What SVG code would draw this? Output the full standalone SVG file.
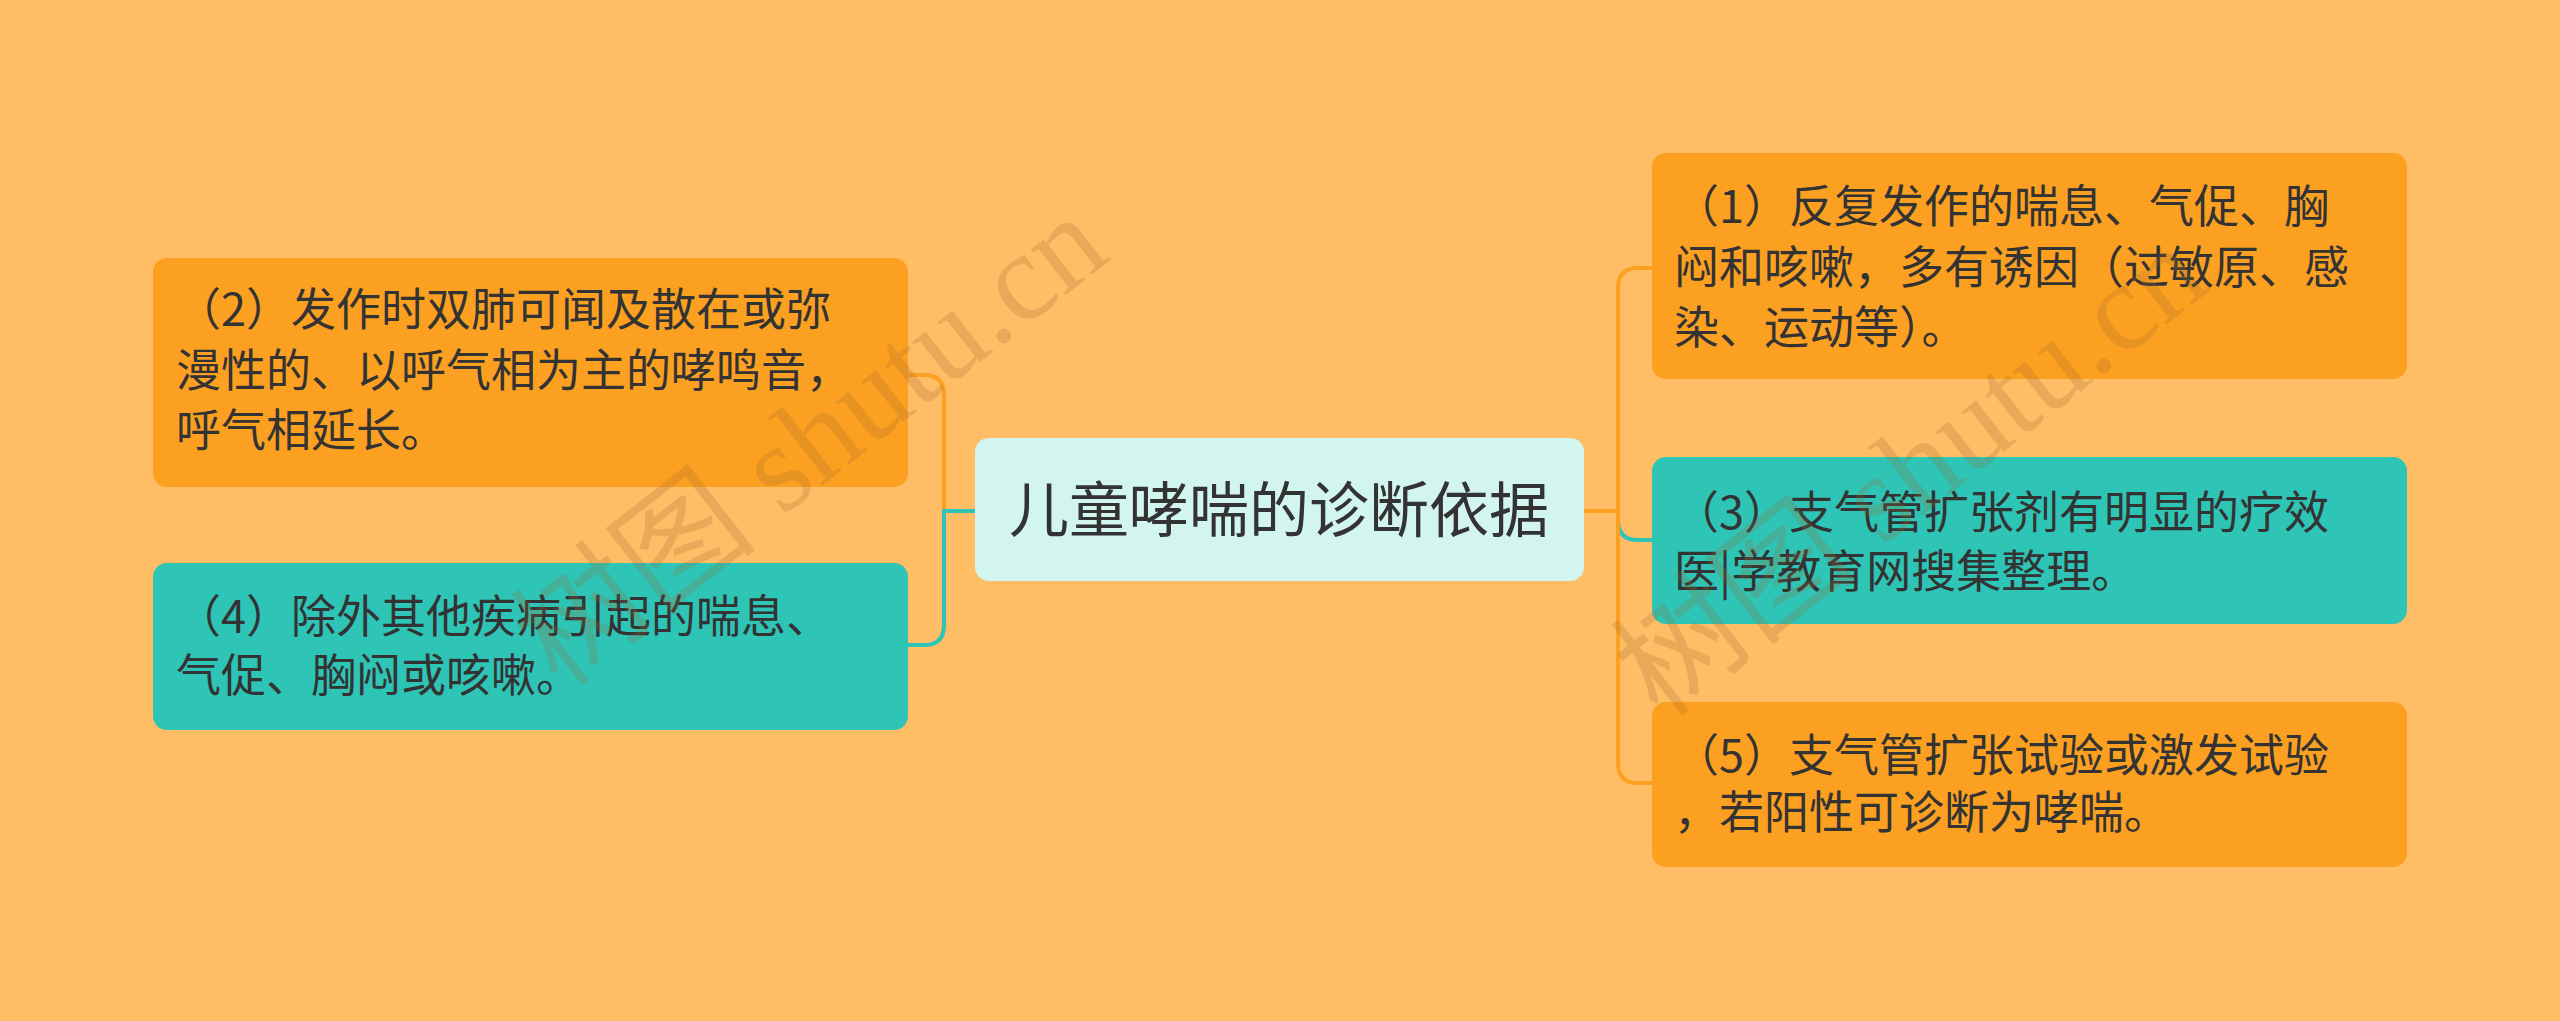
<svg xmlns="http://www.w3.org/2000/svg" width="2560" height="1021" viewBox="0 0 2560 1021">
<style>
.t{font-family:"Noto Sans CJK SC","Noto Sans",sans-serif;font-size:45px;fill:#333}
.or{fill:#FCA021}
.te{fill:#2EC4B6}
.c{fill:none;stroke-width:4}
.wm{font-family:"Liberation Serif","Noto Sans CJK SC",serif;font-size:125px;fill:#9a6a30;opacity:0.22}
</style>
<rect width="2560" height="1021" fill="#FFBD66"/>
<g id="connectors">
<path class="c" stroke="#FCA021" d="M975 511 H944 V395 Q944 375 924 375 H907"/>
<path class="c" stroke="#2EC4B6" d="M975 511 H944 V625 Q944 645 924 645 H907"/>
<path class="c" stroke="#FCA021" d="M1584 511 H1618 V288 Q1618 268 1638 268 H1652"/>
<path class="c" stroke="#2EC4B6" d="M1618 511 V520 Q1618 540 1638 540 H1652"/>
<path class="c" stroke="#FCA021" d="M1618 511 V763 Q1618 783 1638 783 H1652"/>
</g>
<g id="center">
<rect x="975" y="438" width="609" height="143" rx="14" fill="#D2F5F0"/>
<text x="1279" y="532" text-anchor="middle" style="font-family:'Noto Sans CJK SC',sans-serif;font-size:60px;fill:#333">儿童哮喘的诊断依据</text>
</g>
<g id="n2">
<rect class="or" x="153" y="258" width="755" height="229" rx="14"/>
<text class="t"><tspan x="176" y="326">（2）发作时双肺可闻及散在或弥</tspan><tspan x="176" y="387">漫性的、以呼气相为主的哮鸣音，</tspan><tspan x="176" y="447">呼气相延长。</tspan></text>
</g>
<g id="n4">
<rect class="te" x="153" y="563" width="755" height="167" rx="14"/>
<text class="t"><tspan x="176" y="633">（4）除外其他疾病引起的喘息、</tspan><tspan x="176" y="692">气促、胸闷或咳嗽。</tspan></text>
</g>
<g id="n1">
<rect class="or" x="1652" y="153" width="755" height="226" rx="14"/>
<text class="t"><tspan x="1674" y="223">（1）反复发作的喘息、气促、胸</tspan><tspan x="1674" y="284">闷和咳嗽，多有诱因（过敏原、感</tspan><tspan x="1674" y="344">染、运动等）。</tspan></text>
</g>
<g id="n3">
<rect class="te" x="1652" y="457" width="755" height="167" rx="14"/>
<text class="t"><tspan x="1674" y="529">（3）支气管扩张剂有明显的疗效</tspan><tspan x="1674" y="588">医|学教育网搜集整理。</tspan></text>
</g>
<g id="n5">
<rect class="or" x="1652" y="702" width="755" height="165" rx="14"/>
<text class="t"><tspan x="1674" y="772">（5）支气管扩张试验或激发试验</tspan><tspan x="1674" y="829">，若阳性可诊断为哮喘。</tspan></text>
</g>
<text class="wm" transform="translate(560,690) rotate(-38)">树图 shutu.cn</text>
<text class="wm" transform="translate(1660,720) rotate(-38)">树图 shutu.cn</text>
</svg>
